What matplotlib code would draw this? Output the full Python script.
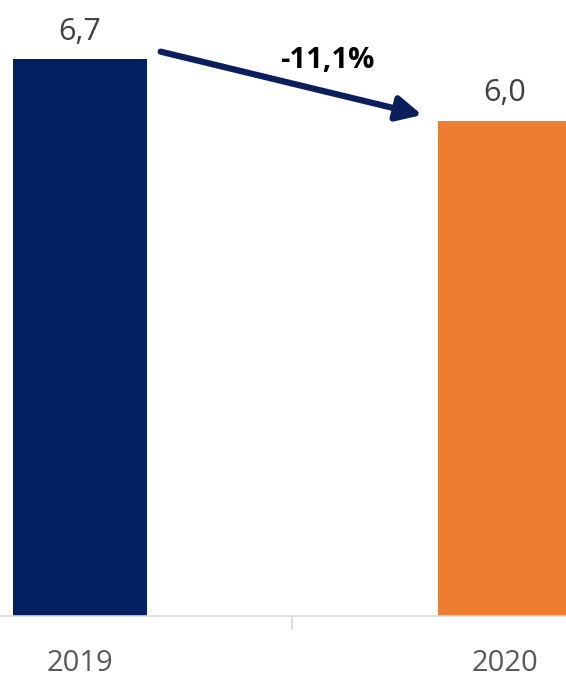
import matplotlib
matplotlib.use("Agg")
import matplotlib.pyplot as plt

years = ["2019", "2020"]
values = [6.68, 5.94]
value_labels = ["6,7", "6,0"]
change_label = "-11,1%"
colors = ["#002060", "#ED7D31"]

plt.rcParams['font.family'] = ['Open Sans', 'DejaVu Sans']

fig = plt.figure(figsize=(5.66, 6.81), dpi=100)
ax = fig.add_axes([0, 0.0959, 1, 0.9041])
x = [0, 1]
width = 0.315
ax.bar(x, values, width=width, color=colors)
ax.set_xlim(-0.188, 1.1435)
ax.set_ylim(0, 7.39)

for xi, v, lab in zip(x, values, value_labels):
    ax.text(xi, v + 0.33, lab, ha="center", va="center", fontsize=22, color="#404040")

# arrow between bars
ax.annotate("", xy=(x[1] - 0.195, values[1] + 0.07), xytext=(x[0] + 0.19, values[0] + 0.09),
            arrowprops=dict(arrowstyle="-|>,head_length=1.5,head_width=0.75", color="#0B1F5E",
                            lw=4.5, shrinkA=0, shrinkB=0))
ax.text(0.583, 6.66, change_label, ha="center", va="center", fontsize=21,
        fontweight="bold", color="black")

for s in ["left", "right", "top"]:
    ax.spines[s].set_visible(False)
ax.spines["bottom"].set_color("#D9D9D9")
ax.spines["bottom"].set_linewidth(1.2)
ax.set_yticks([])
ax.set_xticks(x)
ax.set_xticklabels(years, fontsize=21, color="#595959")
ax.tick_params(axis="x", length=0, pad=24)
ax.set_xticks([0.5], minor=True)
ax.tick_params(axis="x", which="minor", length=10, color="#D9D9D9", width=1.2, direction="out")

fig.savefig("out.png", dpi=100)
